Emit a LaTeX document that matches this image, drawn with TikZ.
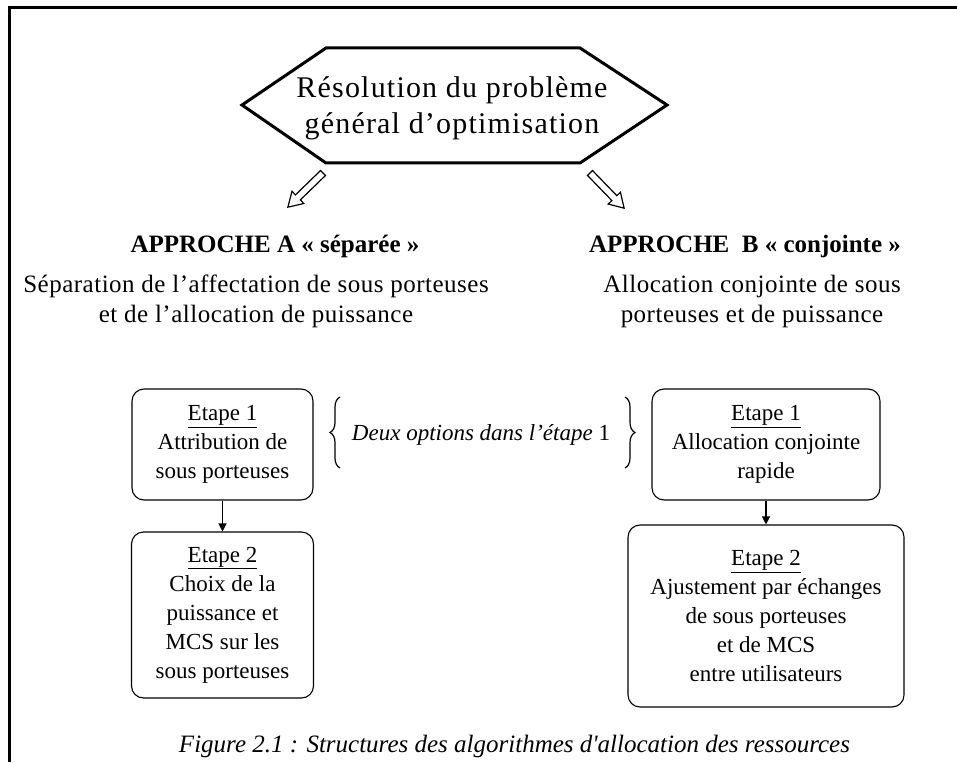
\documentclass[tikz,border=0pt]{standalone}
\usepackage{fontspec}
\setmainfont{Liberation Serif}
\newfontfamily\capfont[Ligatures=TeXOff]{Liberation Serif}
\usetikzlibrary{decorations.pathreplacing,arrows.meta}
\begin{document}
\begin{tikzpicture}[x=1pt,y=1pt,
  stepbox/.style={draw, line width=1.1pt, rounded corners=12pt, inner sep=0pt, align=center, font=\fontsize{23}{29}\selectfont},
  hollow/.style={draw, line width=1.2pt, fill=white, line join=miter},
  link/.style={line width=1.2pt, -{Triangle[length=8pt,width=8pt]}},
  bodytext/.style={align=center, inner sep=0pt, font=\fontsize{25}{30}\selectfont\addfontfeatures{LetterSpace=2}},
  heading/.style={inner sep=0pt, anchor=base, font=\fontsize{25}{30}\selectfont\bfseries},
  bracestyle/.style={decorate, decoration={brace, amplitude=10pt}, line width=1.2pt}
]
\useasboundingbox (0,0) rectangle (957,-762);
% frame
\draw[line width=2.7pt] (9.7,-762) -- (9.7,-7.3) -- (957,-7.3);
% hexagon
\coordinate (h1) at (242,-105);
\coordinate (h2) at (326,-48);
\coordinate (h3) at (580,-48);
\coordinate (h4) at (667,-105);
\coordinate (h5) at (580,-163);
\coordinate (h6) at (326,-163);
\draw[line width=3pt, line join=miter] (h1)--(h2)--(h3)--(h4)--(h5)--(h6)--cycle;
\node[align=center, inner sep=0pt, font=\fontsize{30}{36}\selectfont\addfontfeatures{LetterSpace=4}] (title) at (452,-108) {Résolution du problème\\général d’optimisation};
% hollow arrows
\begin{scope}[shift={(323,-173)}, rotate=224.2]
\draw[hollow] (0,3.5)--(35,3.5)--(35,8.5)--(49,0)--(35,-8.5)--(35,-3.5)--(0,-3.5)--cycle;
\end{scope}
\begin{scope}[shift={(590,-173)}, rotate=-45.9]
\draw[hollow] (0,3.5)--(35,3.5)--(35,8.5)--(49,0)--(35,-8.5)--(35,-3.5)--(0,-3.5)--cycle;
\end{scope}
% headings
\node[heading] (hA) at (275,-252) {APPROCHE A « séparée »};
\node[heading] (hB) at (745,-252) {APPROCHE\ \ B « conjointe »};
% body texts
\node[bodytext] (tA) at (256,-301) {Séparation de l’affectation de sous porteuses\\et de l’allocation de puissance};
\node[bodytext] (tB) at (752,-301) {Allocation conjointe de sous\\porteuses et de puissance};
% boxes
\node[stepbox, minimum width=181pt, minimum height=111pt] (a1) at (222.5,-444.5) {\underline{Etape 1}\\Attribution de\\sous porteuses};
\node[stepbox, minimum width=182pt, minimum height=166pt] (a2) at (222.5,-615) {\underline{Etape 2}\\Choix de la\\puissance et\\MCS sur les\\sous porteuses};
\node[stepbox, minimum width=228pt, minimum height=111pt] (b1) at (766,-444.5) {\underline{Etape 1}\\Allocation conjointe\\rapide};
\node[stepbox, minimum width=276pt, minimum height=182pt] (b2) at (766,-616) {\underline{Etape 2}\\Ajustement par échanges\\de sous porteuses\\et de MCS\\entre utilisateurs};
\draw[link] (a1.south) -- (a2.north);
\draw[link] (b1.south) -- (b2.north);
% braces
\coordinate (lbB) at (340,-468);
\coordinate (lbT) at (340,-397);
\coordinate (rbT) at (625,-397);
\coordinate (rbB) at (625,-468);
\draw[bracestyle] (lbB) -- (lbT);
\draw[bracestyle] (rbT) -- (rbB);
\node[inner sep=0pt, anchor=base, font=\fontsize{23}{28}\selectfont] (opt) at (481,-440) {\itshape Deux options dans l’étape \upshape 1};
% caption
\node[inner sep=0pt, anchor=base, font=\fontsize{25}{30}\selectfont\capfont\itshape] (cap) at (514.5,-752) {Figure 2.1 : Structures des algorithmes d'allocation des ressources};
\end{tikzpicture}
\end{document}
